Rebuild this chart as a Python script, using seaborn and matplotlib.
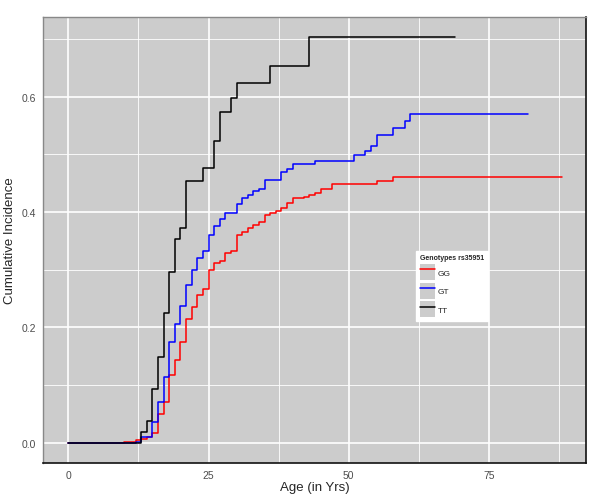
import numpy as np
import pandas as pd
import seaborn as sns
import matplotlib.pyplot as plt
from matplotlib.patches import Patch
from matplotlib.lines import Line2D
from matplotlib.legend_handler import HandlerTuple

# step points of the cumulative incidence curves (age, value after the step)
gg_age = [0, 10, 12, 13, 14, 15, 16, 17, 18, 19, 20, 21, 22, 23, 24, 25, 26, 27, 28, 29,
          30, 31, 32, 33, 34, 35, 36, 37, 38, 39, 40, 42, 43, 44, 45, 47, 55, 58, 88]
gg_cif = [0, 0.002, 0.004, 0.006, 0.010, 0.017, 0.050, 0.071, 0.117, 0.144, 0.175, 0.214,
          0.235, 0.256, 0.266, 0.300, 0.312, 0.315, 0.329, 0.332, 0.360, 0.366, 0.372,
          0.377, 0.382, 0.394, 0.398, 0.402, 0.407, 0.416, 0.424, 0.426, 0.430, 0.433,
          0.440, 0.448, 0.454, 0.460, 0.460]

gt_age = [0, 12, 13, 15, 16, 17, 18, 19, 20, 21, 22, 23, 24, 25, 26, 27, 28, 30, 31, 32,
          33, 34, 35, 38, 39, 40, 44, 51, 53, 54, 55, 58, 60, 61, 82]
gt_cif = [0, 0.002, 0.010, 0.036, 0.070, 0.113, 0.175, 0.205, 0.237, 0.273, 0.300, 0.321,
          0.332, 0.360, 0.375, 0.388, 0.399, 0.414, 0.424, 0.430, 0.436, 0.440, 0.455,
          0.470, 0.475, 0.484, 0.488, 0.498, 0.506, 0.515, 0.534, 0.546, 0.557, 0.570, 0.570]

tt_age = [0, 13, 14, 15, 16, 17, 18, 19, 20, 21, 24, 26, 27, 29, 30, 36, 43, 69]
tt_cif = [0, 0.019, 0.037, 0.093, 0.149, 0.224, 0.296, 0.354, 0.372, 0.453, 0.477, 0.523,
          0.573, 0.598, 0.623, 0.653, 0.703, 0.703]

genotypes = ["GG", "GT", "TT"]
colors = ["#ff0000", "#0000ff", "#000000"]

df = pd.concat([
    pd.DataFrame({"age": gg_age, "cif": gg_cif, "genotype": "GG"}),
    pd.DataFrame({"age": gt_age, "cif": gt_cif, "genotype": "GT"}),
    pd.DataFrame({"age": tt_age, "cif": tt_cif, "genotype": "TT"}),
])

sns.set_style("darkgrid", {"axes.facecolor": "#cccccc", "grid.color": "white"})
plt.rcParams["font.family"] = ["Liberation Sans", "DejaVu Sans"]

fig = plt.figure(figsize=(6, 5.02), dpi=100)
ax = fig.add_axes([0.072, 0.076, 0.905, 0.888])

sns.lineplot(data=df, x="age", y="cif", hue="genotype", palette=dict(zip(genotypes, colors)),
             drawstyle="steps-post", estimator=None, sort=False, linewidth=1.1,
             legend=False, ax=ax)

ax.set_xlim(-4.5, 92.4)
ax.set_ylim(-0.035, 0.738)
ax.set_xticks([0, 25, 50, 75])
ax.set_yticks([0.0, 0.2, 0.4, 0.6])
ax.set_yticklabels(["0.0", "0.2", "0.4", "0.6"])
ax.set_xticks([12.5, 37.5, 62.5, 87.5], minor=True)
ax.set_yticks([0.1, 0.3, 0.5, 0.7], minor=True)
ax.grid(which="major", color="white", linewidth=1.2)
ax.grid(which="minor", color="white", linewidth=0.6)
ax.tick_params(axis="both", which="major", labelsize=7.5, labelcolor="#4d4d4d",
               length=3, color="#555555", width=0.8, pad=2)
ax.tick_params(which="minor", length=0)
ax.set_xlabel("Age (in Yrs)", fontsize=9.5, labelpad=1)
ax.set_ylabel("Cumulative Incidence", fontsize=9.5, labelpad=4)

for side in ["top", "left"]:
    ax.spines[side].set_visible(True)
    ax.spines[side].set_color("#888888")
    ax.spines[side].set_linewidth(1.0)
for side in ["bottom", "right"]:
    ax.spines[side].set_visible(True)
    ax.spines[side].set_color("#111111")
    ax.spines[side].set_linewidth(1.2)

handles = [(Patch(facecolor="#cccccc", edgecolor="none"),
            Line2D([], [], color=c, linewidth=1.1)) for c in colors]
leg = ax.legend(handles, genotypes, title="Genotypes rs35951",
                handler_map={tuple: HandlerTuple(ndivide=1)},
                loc="lower left", bbox_to_anchor=(0.687, 0.318),
                fontsize=6, title_fontsize=5.0, frameon=True, fancybox=False,
                handlelength=1.8, handleheight=2.6, labelspacing=0.3,
                handletextpad=0.3, borderpad=0.45, borderaxespad=0)
leg.get_title().set_fontweight("bold")
leg._legend_box.align = "left"
leg.get_frame().set_facecolor("white")
leg.get_frame().set_edgecolor("white")
leg.get_frame().set_alpha(1)

fig.savefig("out.png", dpi=100)
